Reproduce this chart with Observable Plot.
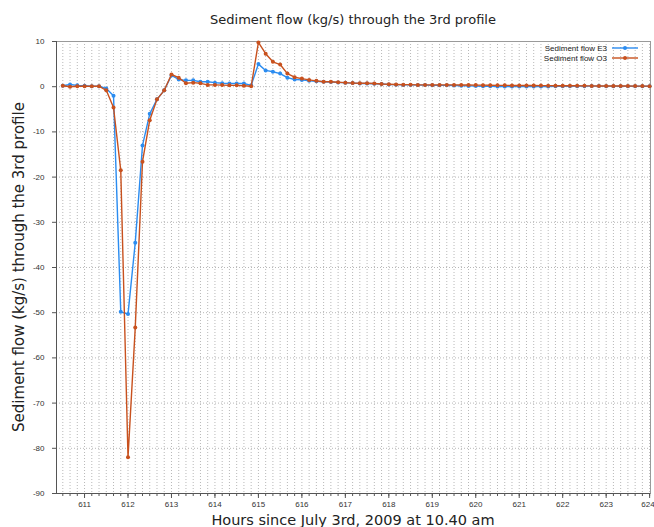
<!DOCTYPE html>
<html>
<head>
<meta charset="utf-8">
<script src="https://cdn.jsdelivr.net/npm/d3@7"></script>
<script src="https://cdn.jsdelivr.net/npm/@observablehq/plot@0.6"></script>
<style>
  html, body { margin: 0; padding: 0; background: #fff; }
  #chart { position: relative; width: 654px; height: 527px; }
</style>
</head>
<body>
<div id="chart"></div>
<script>
// Hours since July 3rd, 2009 at 10.40 am (10-minute samples)
const hours = [
  610.5, 610.6667, 610.8333, 611.0, 611.1667, 611.3333, 611.5, 611.6667, 611.8333,
  612.0, 612.1667, 612.3333, 612.5, 612.6667, 612.8333,
  613.0, 613.1667, 613.3333, 613.5, 613.6667, 613.8333,
  614.0, 614.1667, 614.3333, 614.5, 614.6667, 614.8333,
  615.0, 615.1667, 615.3333, 615.5, 615.6667, 615.8333,
  616.0, 616.1667, 616.3333, 616.5, 616.6667, 616.8333,
  617.0, 617.1667, 617.3333, 617.5, 617.6667, 617.8333,
  618.0, 618.1667, 618.3333, 618.5, 618.6667, 618.8333,
  619.0, 619.1667, 619.3333, 619.5, 619.6667, 619.8333,
  620.0, 620.1667, 620.3333, 620.5, 620.6667, 620.8333,
  621.0, 621.1667, 621.3333, 621.5, 621.6667, 621.8333,
  622.0, 622.1667, 622.3333, 622.5, 622.6667, 622.8333,
  623.0, 623.1667, 623.3333, 623.5, 623.6667, 623.8333,
  624.0
];

// Sediment flow E3 (kg/s)
const flowE3 = [
  0.2, 0.5, 0.3, 0.2, 0.1, 0.1, -0.4, -2.0, -49.8, -50.3, -34.5, -13.0, -6.0, -2.8, -0.8,
  2.5, 1.6, 1.4, 1.4, 1.1, 1.1, 0.9, 0.75, 0.7, 0.7, 0.7, 0.3,
  5.0, 3.6, 3.3, 2.9, 2.0, 1.6, 1.5, 1.3, 1.2, 1.1, 1.05, 0.95, 0.85,
  0.8, 0.7, 0.7, 0.65, 0.6, 0.5, 0.45, 0.4, 0.4, 0.35, 0.35, 0.3, 0.3, 0.3,
  0.25, 0.2, 0.18, 0.15, 0.1, 0.08, 0.05, 0.05, 0.04, 0.04, 0.03, 0.03, 0.05, 0.06,
  0.08, 0.1, 0.1, 0.12, 0.12, 0.13, 0.13, 0.12, 0.12, 0.12, 0.11, 0.11, 0.1, 0.1
];

// Sediment flow O3 (kg/s)
const flowO3 = [
  0.2, 0.0, 0.1, 0.1, 0.1, 0.1, -0.8, -4.6, -18.5, -82.0, -53.3, -16.6, -7.4, -2.8, -0.8,
  2.7, 2.0, 0.75, 0.9, 0.75, 0.4, 0.4, 0.35, 0.3, 0.3, 0.2, 0.1,
  9.8, 7.3, 5.5, 4.9, 2.9, 2.1, 1.8, 1.5, 1.3, 1.1, 1.1, 1.0, 0.9,
  0.8, 0.75, 0.75, 0.7, 0.6, 0.55, 0.5, 0.45, 0.45, 0.4, 0.4, 0.4, 0.4, 0.4,
  0.4, 0.38, 0.36, 0.35, 0.34, 0.32, 0.3, 0.3, 0.28, 0.27, 0.26, 0.25, 0.24, 0.23,
  0.22, 0.21, 0.2, 0.2, 0.19, 0.18, 0.17, 0.16, 0.15, 0.15, 0.14, 0.13, 0.13, 0.12
];

const xMajorTicks = [611, 612, 613, 614, 615, 616, 617, 618, 619, 620, 621, 622, 623, 624];
const yTicks = [-90, -80, -70, -60, -50, -40, -30, -20, -10, 0, 10];
const seriesNames = ["Sediment flow E3", "Sediment flow O3"];
const seriesColors = ["#2b8cf0", "#c8511e"];

const dataE3 = hours.map((h, i) => ({hour: h, value: flowE3[i], series: seriesNames[0]}));
const dataO3 = hours.map((h, i) => ({hour: h, value: flowO3[i], series: seriesNames[1]}));

const W = 654, H = 527;
const mL = 56, mR = 4, mT = 41, mB = 34;

const plot = Plot.plot({
  width: W,
  height: H,
  marginLeft: mL,
  marginRight: mR,
  marginTop: mT,
  marginBottom: mB,
  style: {fontFamily: "'Liberation Sans', Arial, sans-serif", fontSize: "8px", color: "#333", background: "#fff"},
  x: {domain: [610.355, 624.02]},
  y: {domain: [-90, 10]},
  marks: [
    Plot.gridX(hours, {stroke: "#b8b8b8", strokeOpacity: 1, strokeDasharray: "1,2"}),
    Plot.gridY(yTicks, {stroke: "#b8b8b8", strokeOpacity: 1, strokeDasharray: "1,2"}),
    Plot.frame({stroke: "#9a9a9a"}),
    Plot.ruleX([610.355], {stroke: "#555"}),
    Plot.ruleY([-90], {stroke: "#555"}),
    Plot.axisX(hours, {tickSize: 3, tickFormat: () => "", label: null, stroke: "#555"}),
    Plot.axisX(xMajorTicks, {tickSize: 5, tickPadding: 3, tickFormat: d => String(d), label: null, stroke: "#555", fill: "#333"}),
    Plot.axisY(yTicks, {tickSize: 4, tickPadding: 8, tickFormat: d => String(d), label: null, stroke: "#555", fill: "#333"}),
    Plot.line(dataE3, {x: "hour", y: "value", stroke: seriesColors[0], strokeWidth: 1.4}),
    Plot.dot(dataE3, {x: "hour", y: "value", fill: seriesColors[0], r: 2}),
    Plot.line(dataO3, {x: "hour", y: "value", stroke: seriesColors[1], strokeWidth: 1.4}),
    Plot.dot(dataO3, {x: "hour", y: "value", fill: seriesColors[1], r: 2})
  ]
});

const svg = d3.select(plot);
const cx = (mL + (W - mR)) / 2;

// keep the last x tick label ("624") inside the picture
const lastLabel = String(xMajorTicks[xMajorTicks.length - 1]);
svg.selectAll("text")
  .filter(function () { return this.textContent === lastLabel; })
  .attr("text-anchor", "end")
  .attr("dx", 5);

svg.append("text")
  .attr("x", cx).attr("y", 24)
  .attr("text-anchor", "middle")
  .style("font-family", "'DejaVu Sans', sans-serif")
  .style("font-size", "13px")
  .attr("fill", "#222")
  .text("Sediment flow (kg/s) through the 3rd profile");

svg.append("text")
  .attr("transform", `translate(24, ${(mT + H - mB) / 2}) rotate(-90)`)
  .attr("text-anchor", "middle")
  .style("font-family", "'DejaVu Sans', sans-serif")
  .style("font-size", "15px")
  .attr("fill", "#222")
  .text("Sediment flow (kg/s) through the 3rd profile");

svg.append("text")
  .attr("x", cx).attr("y", 524.5)
  .attr("text-anchor", "middle")
  .style("font-family", "'DejaVu Sans', sans-serif")
  .style("font-size", "14.5px")
  .attr("fill", "#222")
  .text("Hours since July 3rd, 2009 at 10.40 am");

// legend
const leg = svg.append("g");
seriesNames.forEach((name, i) => {
  const y = 48 + i * 10;
  leg.append("text")
    .attr("x", 607).attr("y", y).attr("dy", "0.35em")
    .attr("text-anchor", "end")
    .style("font-family", "'Liberation Sans', Arial, sans-serif")
    .style("font-size", "8px")
    .attr("fill", "#222")
    .text(name);
  leg.append("line")
    .attr("x1", 612).attr("x2", 638).attr("y1", y).attr("y2", y)
    .attr("stroke", seriesColors[i]).attr("stroke-width", 1.4);
  leg.append("circle")
    .attr("cx", 625).attr("cy", y).attr("r", 2)
    .attr("fill", seriesColors[i]);
});

document.getElementById("chart").appendChild(plot);
</script>
</body>
</html>
